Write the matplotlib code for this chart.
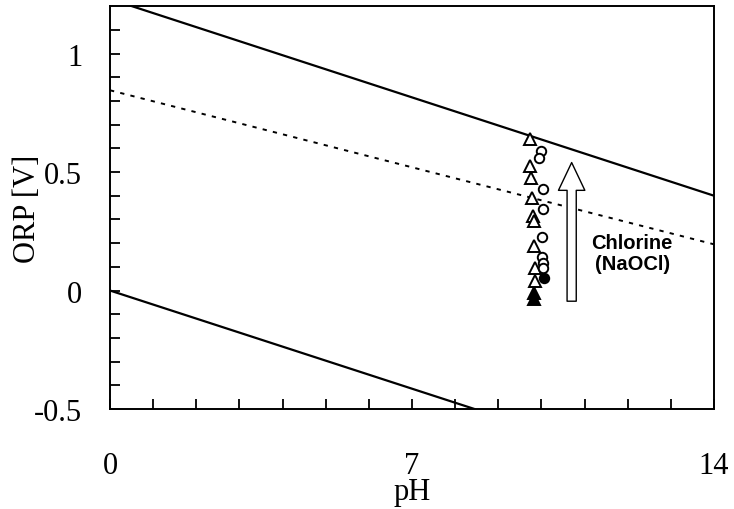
import matplotlib
matplotlib.use('Agg')
import matplotlib.pyplot as plt

# theoretical limit lines (end points)
o2_ph = [0, 14]
o2_orp = [1.23, 0.40]
h2_ph = [0, 8.45]
h2_orp = [0.0, -0.5]
cl_ph = [0, 14]
cl_orp = [0.845, 0.195]

# measured points
tri_ph = [9.74, 9.74, 9.76, 9.79, 9.8, 9.82, 9.82, 9.85, 9.86]
tri_orp = [0.64, 0.525, 0.475, 0.39, 0.315, 0.295, 0.19, 0.095, 0.04]
tri_fill_ph = [9.82, 9.82]
tri_fill_orp = [-0.01, -0.035]
circ_ph = [9.98, 9.95, 10.03, 10.03, 10.02, 10.02, 10.03, 10.04]
circ_orp = [0.59, 0.56, 0.43, 0.345, 0.225, 0.14, 0.115, 0.095]
circ_fill_ph = [10.06]
circ_fill_orp = [0.055]

plt.rcParams['font.family'] = ['Liberation Serif', 'DejaVu Serif']

fig = plt.figure(figsize=(7.34, 5.10), dpi=100)
ax = fig.add_axes([0.1499, 0.196, 0.8229, 0.790])

ax.plot(o2_ph, o2_orp, color='black', lw=1.6)
ax.plot(h2_ph, h2_orp, color='black', lw=1.6)
ax.plot(cl_ph, cl_orp, color='black', lw=1.4, linestyle=(0, (2.2, 3.2)))

ax.plot(tri_ph, tri_orp, linestyle='none', marker='^', ms=8.8,
        mfc='white', mec='black', mew=1.4)
ax.plot(tri_fill_ph, tri_fill_orp, linestyle='none', marker='^', ms=8.8,
        mfc='black', mec='black', mew=1.4)
ax.plot(circ_ph, circ_orp, linestyle='none', marker='o', ms=6.8,
        mfc='white', mec='black', mew=1.4)
ax.plot(circ_fill_ph, circ_fill_orp, linestyle='none', marker='o', ms=6.8,
        mfc='black', mec='black', mew=1.4)

# open block arrow
ax.annotate('', xy=(10.7, 0.54), xytext=(10.7, -0.045),
            arrowprops=dict(arrowstyle='simple,head_length=1.0,head_width=0.95,tail_width=0.33',
                            fc='white', ec='black', lw=1.0, mutation_scale=20,
                            shrinkA=0, shrinkB=0))
ax.text(12.1, 0.158, 'Chlorine\n(NaOCl)', ha='center', va='center',
        fontsize=14.5, fontweight='bold', family=['Liberation Sans', 'DejaVu Sans'],
        linespacing=1.15)

ax.set_xlim(0, 14)
ax.set_ylim(-0.5, 1.2)
ax.set_xticks(range(0, 15))
ax.set_xticklabels(['0', '', '', '', '', '', '', '7', '', '', '', '', '', '', '14'])
ax.set_yticks([-0.5 + 0.1 * i for i in range(17)])
ax.set_yticklabels(['-0.5', '', '', '', '', '0', '', '', '', '', '0.5', '', '', '', '', '1', ''])
ax.tick_params(direction='in', length=7, width=1.3, labelsize=22)
ax.tick_params(axis='x', pad=30)
ax.tick_params(axis='y', pad=20)

for side in ['top', 'right', 'bottom', 'left']:
    ax.spines[side].set_linewidth(1.4)

ax.set_xlabel('pH', fontsize=22, labelpad=-2)
ax.set_ylabel('ORP [V]', fontsize=22, labelpad=-6)

fig.savefig('out.png', dpi=100)
